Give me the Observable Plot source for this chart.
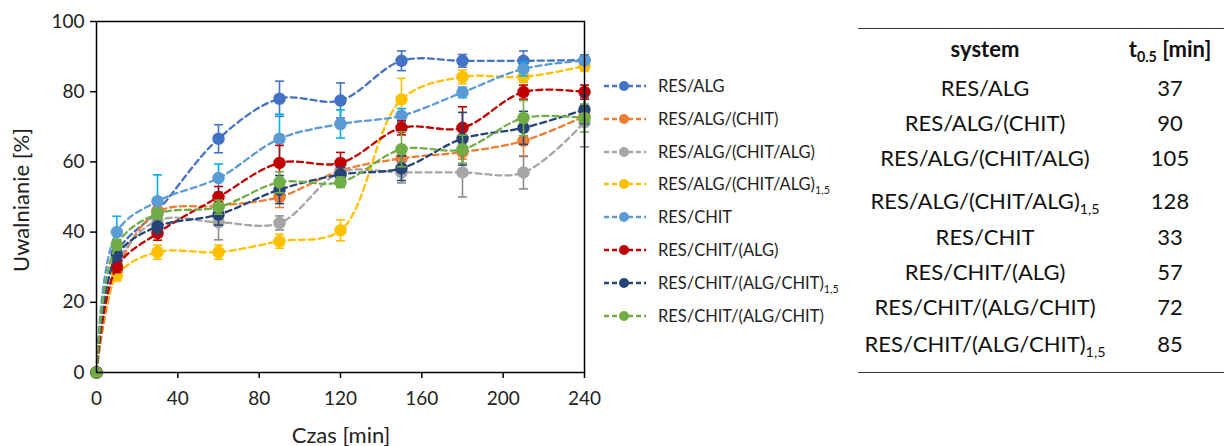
<!DOCTYPE html>
<html>
<head>
<meta charset="utf-8">
<script src="https://cdn.jsdelivr.net/npm/d3@7"></script>
<script src="https://cdn.jsdelivr.net/npm/@observablehq/plot@0.6"></script>
<style>
  html, body { margin:0; padding:0; background:#fff; }
  body { width:1224px; height:446px; position:relative; overflow:hidden; font-family: Lato, "Open Sans", sans-serif; color:#000; }
  #chart { position:absolute; left:0; top:0; }
  .ylab { position:absolute; left:20px; top:200px; transform: translate(-50%,-50%) rotate(-90deg); font-size:22px; white-space:nowrap; color:#222; }
  .xlab { position:absolute; left:341px; top:434px; transform: translate(-50%,-50%); font-size:22px; white-space:nowrap; color:#222; }
  .leg { position:absolute; left:603px; font-size:16.5px; display:flex; align-items:center; white-space:nowrap; color:#222; }
  .leg svg { margin-right:11px; }
  .cell { position:absolute; transform: translate(-50%,-50%); font-size:22px; white-space:nowrap; color:#111; }
  .hd { font-weight:bold; }
  sub { font-size:0.65em; vertical-align: -0.35em; line-height:0; }
  .rule { position:absolute; left:858px; width:366px; height:0; border-top:1.5px solid #333; }
</style>
</head>
<body>
<div id="chart"></div>
<div class="ylab">Uwalnianie [%]</div>
<div class="xlab">Czas [min]</div>
<div id="legend"></div>
<div id="table"></div>
<script>
// ---- data ----
const times = [0, 10, 30, 60, 90, 120, 150, 180, 210, 240];
const seriesNames = [
  "RES/ALG", "RES/ALG/(CHIT)", "RES/ALG/(CHIT/ALG)", "RES/ALG/(CHIT/ALG)_1,5",
  "RES/CHIT", "RES/CHIT/(ALG)", "RES/CHIT/(ALG/CHIT)_1,5", "RES/CHIT/(ALG/CHIT)"
];
const lineColors = ["#4472C4", "#ED7D31", "#A5A5A5", "#FFC000", "#5B9BD5", "#C00000", "#264478", "#70AD47"];
const errColors  = ["#4472C4", "#ED7D31", "#8C8C8C", "#FFC000", "#00B0F0", "#C00000", "#264478", "#70AD47"];

const vResAlg        = [0, 34, 46, 66.6, 78, 77.5, 88.8, 88.8, 88.8, 89];
const vResAlgChit    = [0, 29, 45.7, 47.5, 50, 57.5, 61, 62.8, 66, 73];
const vResAlgChitAlg = [0, 31, 43.3, 42.8, 42.6, 57, 57, 57, 57, 71.3];
const vResAlgChitAlg15 = [0, 27.6, 34.3, 34.3, 37.4, 40.5, 77.8, 84.2, 84.2, 87.3];
const vResChit       = [0, 40, 48.8, 55.4, 66.6, 70.8, 73.2, 79.8, 86.5, 88.9];
const vResChitAlg    = [0, 30, 39.7, 50, 59.7, 59.7, 69.7, 69.7, 79.9, 79.9];
const vResChitAlgChit15 = [0, 33.3, 41.6, 45, 52.1, 56.4, 58.2, 66.6, 69.7, 74.9];
const vResChitAlgChit = [0, 36.4, 45.2, 47.1, 54.2, 54.2, 63.6, 63.6, 72.5, 72.5];

const eResAlg        = [0, 2, 2, 4, 5, 5, 2.8, 1.8, 2.8, 1.5];
const eResAlgChit    = [0, 1, 1.5, 2, 3, 2, 2, 2, 4.5, 2];
const eResAlgChitAlg = [0, 1, 2, 5, 2, 2, 3, 7, 4.7, 7];
const eResAlgChitAlg15 = [0, 1.5, 2, 2, 2, 3, 6, 2, 1.5, 1.5];
const eResChit       = [0, 4.5, 7.5, 4, 7, 4, 2, 1.5, 2, 1];
const eResChitAlg    = [0, 1.5, 2, 3, 5, 3, 2, 6, 2, 2];
const eResChitAlgChit15 = [0, 1.5, 2, 3, 4, 2, 3.5, 7.5, 4.7, 4];
const eResChitAlgChit = [0, 1.5, 1.5, 2, 3, 1.5, 5, 4, 5, 4];

const values = [vResAlg, vResAlgChit, vResAlgChitAlg, vResAlgChitAlg15, vResChit, vResChitAlg, vResChitAlgChit15, vResChitAlgChit];
const errors = [eResAlg, eResAlgChit, eResAlgChitAlg, eResAlgChitAlg15, eResChit, eResChitAlg, eResChitAlgChit15, eResChitAlgChit];

const xTicks = [0, 40, 80, 120, 160, 200, 240];
const yTicks = [0, 20, 40, 60, 80, 100];

const tableSystems = ["RES/ALG", "RES/ALG/(CHIT)", "RES/ALG/(CHIT/ALG)", "RES/ALG/(CHIT/ALG)_1,5",
  "RES/CHIT", "RES/CHIT/(ALG)", "RES/CHIT/(ALG/CHIT)", "RES/CHIT/(ALG/CHIT)_1,5"];
const tableT05 = [37, 90, 105, 128, 33, 57, 72, 85];

// ---- helpers ----
function labelHTML(s) {
  const i = s.indexOf("_");
  return i < 0 ? s : s.slice(0, i) + "<sub>" + s.slice(i + 1) + "</sub>";
}
const capSymbol = { draw(ctx) { ctx.moveTo(-4.5, 0); ctx.lineTo(4.5, 0); } };

// ---- chart ----
const marks = [];
seriesNames.forEach((name, k) => {
  const rows = times.map((t, i) => ({ t, v: values[k][i], e: errors[k][i] }));
  const withErr = rows.filter(d => d.e > 0);
  marks.push(Plot.ruleX(withErr, { x: "t", y1: d => d.v - d.e, y2: d => d.v + d.e, stroke: errColors[k], strokeWidth: 1.6 }));
  marks.push(Plot.dot(withErr, { x: "t", y: d => d.v + d.e, symbol: capSymbol, stroke: errColors[k], strokeWidth: 1.6, fill: "none" }));
  marks.push(Plot.dot(withErr, { x: "t", y: d => d.v - d.e, symbol: capSymbol, stroke: errColors[k], strokeWidth: 1.6, fill: "none" }));
  marks.push(Plot.line(rows, { x: "t", y: "v", stroke: lineColors[k], strokeWidth: 2.3, strokeDasharray: "6,4", curve: "catmull-rom" }));
  marks.push(Plot.dot(rows, { x: "t", y: "v", r: 5.5, fill: lineColors[k], stroke: lineColors[k] }));
});

const plot = Plot.plot({
  width: 620, height: 446,
  marginLeft: 96, marginRight: 36, marginTop: 21, marginBottom: 74,
  style: { fontFamily: "Lato, 'Open Sans', sans-serif", fontSize: "19px", color: "#000", background: "#fff" },
  x: { domain: [0, 240] },
  y: { domain: [0, 100] },
  marks: [
    Plot.axisX({ ticks: xTicks, tickSize: 6, tickPadding: 13, label: null, stroke: "#000", strokeWidth: 1.5, color: "#222" }),
    Plot.axisY({ ticks: yTicks, tickSize: 6, tickPadding: 6, label: null, stroke: "#000", strokeWidth: 1.5, color: "#222" }),
    ...marks,
    Plot.frame({ stroke: "#000", strokeWidth: 1.5 })
  ]
});
document.getElementById("chart").appendChild(plot);

// ---- legend ----
const legend = document.getElementById("legend");
const legY0 = 86, legStep = 32.8;
seriesNames.forEach((name, k) => {
  const div = document.createElement("div");
  div.className = "leg";
  div.style.top = (legY0 + k * legStep - 11) + "px";
  div.style.height = "22px";
  div.innerHTML = `<svg width="44" height="14"><line x1="1" x2="43" y1="7" y2="7" stroke="${lineColors[k]}" stroke-width="2.3" stroke-dasharray="5,3"/><circle cx="21" cy="7" r="5" fill="${lineColors[k]}"/></svg><span>${labelHTML(name)}</span>`;
  legend.appendChild(div);
});

// ---- table ----
const table = document.getElementById("table");
const c1 = 985, c2 = 1170;
const rowY = [87, 122, 157, 200, 236, 271, 306, 343];
function addCell(html, x, y, cls) {
  const d = document.createElement("div");
  d.className = "cell" + (cls ? " " + cls : "");
  d.style.left = x + "px"; d.style.top = y + "px";
  d.innerHTML = html;
  table.appendChild(d);
}
const r1 = document.createElement("div"); r1.className = "rule"; r1.style.top = "28px"; table.appendChild(r1);
const r2 = document.createElement("div"); r2.className = "rule"; r2.style.top = "372px"; table.appendChild(r2);
addCell("system", c1, 48, "hd");
addCell("t<sub>0.5</sub> [min]", c2, 48, "hd");
tableSystems.forEach((s, i) => {
  addCell(labelHTML(s), c1, rowY[i]);
  addCell(String(tableT05[i]), c2, rowY[i]);
});
</script>
</body>
</html>
